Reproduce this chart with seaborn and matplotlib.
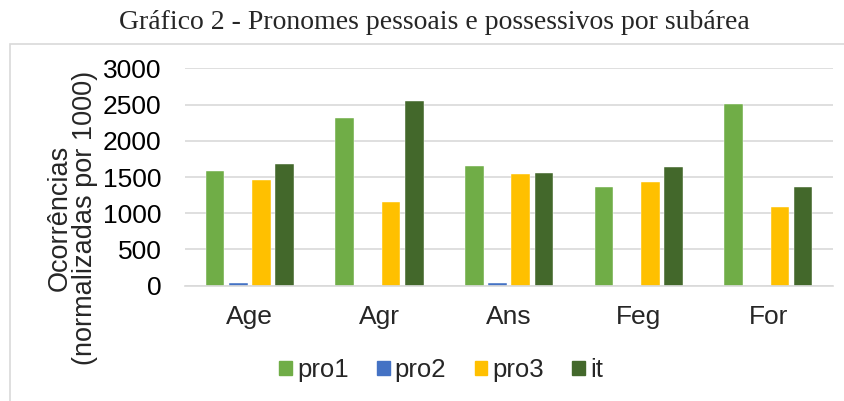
import pandas as pd
import seaborn as sns
import matplotlib.pyplot as plt
from matplotlib.patches import Rectangle

subareas = ["Age", "Agr", "Ans", "Feg", "For"]
series = ["pro1", "pro2", "pro3", "it"]
pro1 = [1580, 2320, 1655, 1365, 2505]
pro2 = [35, 0, 35, 0, 0]
pro3 = [1465, 1160, 1535, 1425, 1080]
it = [1675, 2550, 1560, 1635, 1365]
colors = ["#70AD47", "#4472C4", "#FFC000", "#43682B"]

df = pd.DataFrame({"subarea": subareas, "pro1": pro1, "pro2": pro2, "pro3": pro3, "it": it})
df = df.melt(id_vars="subarea", var_name="serie", value_name="valor")

sns.set_style("white")
plt.rcParams["font.family"] = ["Liberation Sans", "DejaVu Sans"]

fig = plt.figure(figsize=(8.45, 4.01), dpi=100)
ax = fig.add_axes([0.219, 0.2875, 0.767, 0.5422])

sns.barplot(data=df, x="subarea", y="valor", hue="serie", hue_order=series,
            palette=colors, saturation=1, width=0.716, gap=0.2,
            edgecolor="white", linewidth=0.3, ax=ax, legend=False)

ax.set_ylim(0, 3000)
ax.set_yticks(range(0, 3001, 500))
ax.yaxis.grid(True, color="#D9D9D9", linewidth=1.2)
ax.set_axisbelow(True)
sns.despine(ax=ax, left=True, top=True, right=True)
ax.spines["bottom"].set_color("#D9D9D9")
ax.spines["bottom"].set_linewidth(1.2)
ax.tick_params(axis="y", length=0, pad=17, labelsize=19, colors="#000000")
ax.tick_params(axis="x", length=0, pad=14, labelsize=19)
ax.set_xlabel("")
ax.set_ylabel("Ocorrências\n(normalizadas por 1000)", fontsize=19.5, linespacing=0.97)
ax.yaxis.set_label_coords(-0.134, 0.311)

handles = [Rectangle((0, 0), 1, 1, color=c) for c in colors]
fig.legend(handles, series, loc="center", bbox_to_anchor=(0.522, 0.077), ncol=4,
           frameon=False, fontsize=18.5, handlelength=0.5, handleheight=0.5,
           handletextpad=0.2, columnspacing=1.1)

fig.text(0.514, 0.945, "Gráfico 2 - Pronomes pessoais e possessivos por subárea",
         ha="center", va="center", fontsize=20, family=["Liberation Serif", "DejaVu Serif"])

fig.patches.append(Rectangle((10 / 845, -0.01), 0.99, 1 - 44 / 401 + 0.01,
                             transform=fig.transFigure, fill=False,
                             edgecolor="#D9D9D9", linewidth=1.2))

fig.savefig("out.png", dpi=100)
